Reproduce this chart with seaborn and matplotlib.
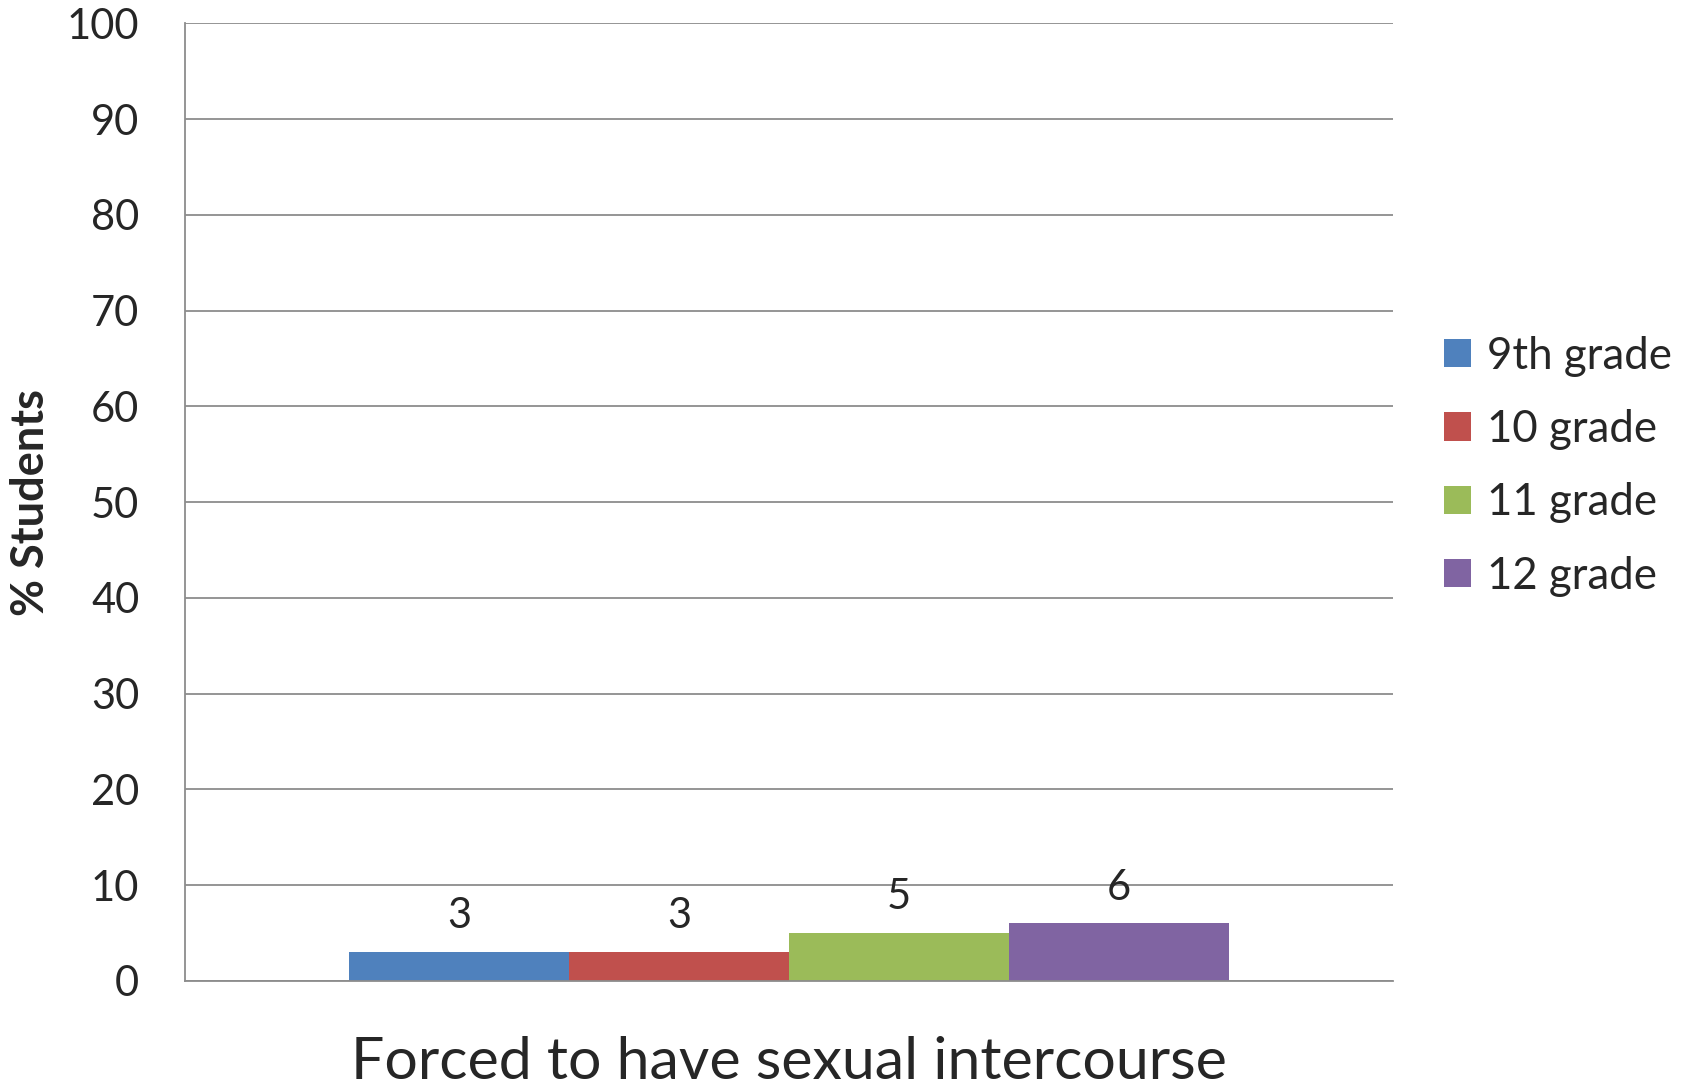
import pandas as pd
import matplotlib
matplotlib.use('Agg')
import matplotlib.pyplot as plt
import seaborn as sns

sns.set_style('white')
plt.rcParams['font.family'] = ['Lato', 'DejaVu Sans']

category = ['Forced to have sexual intercourse']
grades = ['9th grade', '10 grade', '11 grade', '12 grade']
values = [3, 3, 5, 6]
colors = ['#4F81BD', '#C0504D', '#9BBB59', '#8064A2']

df = pd.DataFrame({
    'question': category * len(grades),
    'grade': grades,
    'pct': values,
})

fig = plt.figure(figsize=(16.9, 10.89), dpi=100)
ax = fig.add_axes([0.1095, 0.0994, 0.7148, 0.8792])

sns.barplot(data=df, x='question', y='pct', hue='grade', palette=colors,
            saturation=1, width=0.728, dodge=True, linewidth=0, ax=ax, legend=True)

for c in ax.containers:
    ax.bar_label(c, fontsize=30, padding=12)

grid_col = '#8c8c8c'
ax.set_ylim(0, 100)
ax.set_xlim(-0.5, 0.5)
ax.set_yticks(range(0, 101, 10))
ax.tick_params(axis='y', labelsize=30, length=11, width=1.3, color=grid_col, pad=22)
ax.yaxis.grid(True, color=grid_col, lw=1.3)
ax.set_axisbelow(True)

ax.set_xticks([0])
ax.set_xticklabels(category, fontsize=42.5)
ax.tick_params(axis='x', length=0, pad=40)
ax.set_xticks([-0.5, 0.5], minor=True)
ax.tick_params(axis='x', which='minor', length=14, width=1.3, color=grid_col)
ax.set_xlabel('')
ax.set_ylabel('')

fig.text(31 / 1690, 1 - 503 / 1089, '% Students', rotation=90, ha='center',
         va='center', fontsize=32.5, fontweight='bold')

for s in ['top', 'right']:
    ax.spines[s].set_visible(False)
for s in ['left', 'bottom']:
    ax.spines[s].set_color(grid_col)
    ax.spines[s].set_linewidth(1.3)

ax.legend(loc='center left', bbox_to_anchor=(0.8544, 0.572),
          bbox_transform=fig.transFigure, frameon=False, fontsize=31.5,
          handlelength=0.62, handleheight=0.62, handletextpad=0.36,
          labelspacing=0.74, borderpad=0, borderaxespad=0)

fig.savefig('out.png', dpi=100)
